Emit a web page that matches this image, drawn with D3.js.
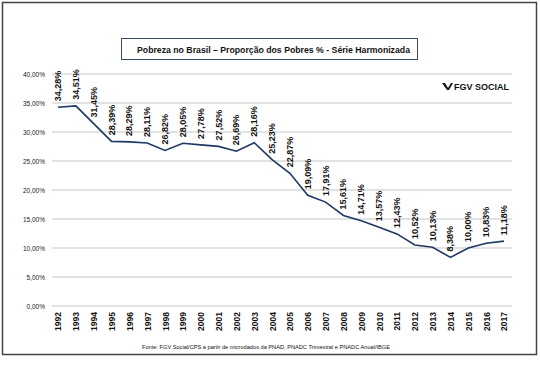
<!DOCTYPE html>
<html><head><meta charset="utf-8">
<script src="https://cdn.jsdelivr.net/npm/d3@7"></script>
<style>
body{margin:0;background:#fff;}
svg{display:block;font-family:"Liberation Sans",Arial,sans-serif;}
</style></head>
<body><svg id="c" width="540" height="367"></svg>
<script>
const years = ["1992","1993","1994","1995","1996","1997","1998","1999","2000","2001","2002","2003","2004","2005","2006","2007","2008","2009","2010","2011","2012","2013","2014","2015","2016","2017"];
const values = [34.28,34.51,31.45,28.39,28.29,28.11,26.82,28.05,27.78,27.52,26.69,28.16,25.23,22.87,19.09,17.91,15.61,14.71,13.57,12.43,10.52,10.13,8.38,10.00,10.83,11.18];
const yTicks = [0,5,10,15,20,25,30,35,40];
const title = "Pobreza no Brasil – Proporção dos Pobres % - Série Harmonizada";
const source = "Fonte: FGV Social/CPS a partir de microdados da PNAD, PNADC Trimestral e PNADC Anual/IBGE";

const svg = d3.select("#c");
const fmt = v => v.toFixed(2).replace(".", ",") + "%";

// outer frame
svg.append("rect").attr("x",2.5).attr("y",2.5).attr("width",534).attr("height",352)
  .attr("fill","#fff").attr("stroke","#444").attr("stroke-width",1.5);

const x = d3.scalePoint().domain(years).range([58,504]);
const y = d3.scaleLinear().domain([0,40]).range([306,74]);

// gridlines
svg.append("g").selectAll("line").data(yTicks).join("line")
  .attr("x1",52).attr("x2",512).attr("y1",d=>y(d)).attr("y2",d=>y(d))
  .attr("stroke","#d9d9d9").attr("stroke-width",1.5);

// y axis labels
const yAxis = svg.append("g").attr("transform","translate(45,0)")
  .call(d3.axisLeft(y).tickValues(yTicks).tickSize(0).tickPadding(0).tickFormat(d=>d.toFixed(2).replace(".",",")+"%"));
yAxis.select(".domain").remove();
yAxis.selectAll("text").attr("font-size",6.5).attr("fill","#222").attr("font-family","Liberation Sans, Arial");

// x axis labels
const xAxis = svg.append("g").attr("transform","translate(0,311)")
  .call(d3.axisBottom(x).tickSize(0).tickPadding(0));
xAxis.select(".domain").remove();
xAxis.selectAll("text").attr("font-size",8.5).attr("font-weight","bold").attr("fill","#111")
  .attr("transform","rotate(-90)").attr("text-anchor","end").attr("dy","0.35em").attr("x",-1).attr("y",0)
  .attr("font-family","Liberation Sans, Arial");

// line
svg.append("path").datum(values)
  .attr("d", d3.line().x((d,i)=>x(years[i])).y(d=>y(d)))
  .attr("fill","none").attr("stroke","#1f3864").attr("stroke-width",1.6);

// data labels
svg.append("g").selectAll("text").data(values).join("text")
  .attr("transform",(d,i)=>`translate(${x(years[i])+3},${y(d)-6}) rotate(-90)`)
  .attr("text-anchor","start").attr("font-size",9).attr("font-weight","bold").attr("fill","#111")
  .text(d=>fmt(d));

// title box
svg.append("rect").attr("x",121.5).attr("y",38.5).attr("width",296).attr("height",21)
  .attr("fill","#fff").attr("stroke","#3a4a6a").attr("stroke-width",1);
svg.append("text").attr("x",273.5).attr("y",53).attr("text-anchor","middle")
  .attr("font-size",9.5).attr("font-weight","bold").attr("fill","#111")
  .attr("textLength",273).attr("lengthAdjust","spacingAndGlyphs").text(title);

// logo
const lg = svg.append("g").attr("transform","translate(442,88)");
lg.append("path").attr("d","M0,-5 L3,-5 L6,0 L9,-5 L11,-5 L7,2 L5,2 Z").attr("fill","#111");
lg.append("text").attr("x",12).attr("y",2).attr("font-size",9).attr("font-weight","bold")
  .attr("fill","#111").text("FGV SOCIAL");

// source
svg.append("text").attr("x",266).attr("y",349).attr("text-anchor","middle")
  .attr("font-size",6.2).attr("fill","#111")
  .attr("textLength",248).attr("lengthAdjust","spacingAndGlyphs").text(source);
</script></body></html>
